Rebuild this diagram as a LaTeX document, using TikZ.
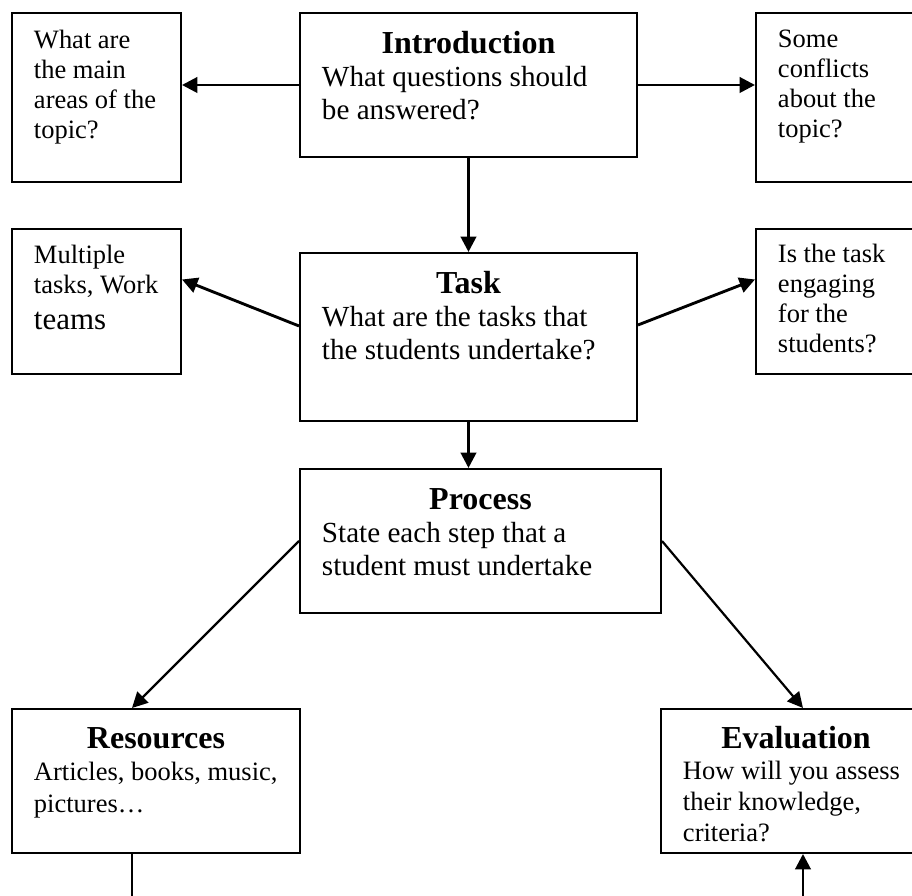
\documentclass[tikz,border=0pt]{standalone}
\usepackage{fontspec}
\setmainfont{Liberation Serif}
\usetikzlibrary{arrows.meta,positioning,calc}
\newlength\px
\setlength\px{0.453pt}
\newcommand\boxtext[4]{%
  \begin{minipage}[t][#2\px][t]{#1\px}%
    \raggedright\leftskip=22\px\parindent=0pt
    \fontsize{12}{30\px}\selectfont
    \rule{0pt}{#3\px}#4%
  \end{minipage}}
\newcommand\boxtitle[1]{%
  {\centering\fontsize{14.5}{16}\bfseries\selectfont #1\par}%
  \fontsize{13.2}{33\px}\selectfont}
\tikzset{card/.style={draw,line width=0.9pt,anchor=north west,inner sep=0pt}}
\tikzset{link/.style={line width=1.3pt}}
\tikzset{>={Triangle[length=7pt,width=7pt]}}

\begin{document}
\begin{tikzpicture}[x=1\px,y=-1\px]
        \useasboundingbox (0,0) rectangle (912,896);
        \clip (0,0) rectangle (912,896);

        \node[card] (areas) at (11,12) {\boxtext{169}{169}{36}{What are\\the main\\areas of the\\topic?}};
        \node[card] (intro) at (299,12) {\boxtext{337}{144}{41}{\boxtitle{Introduction}What questions should\\be answered?}};
        \node[card] (conflicts) at (755,12) {\boxtext{169}{169}{35}{Some\\conflicts\\about the\\topic?}};

        \node[card] (teams) at (11,228) {\boxtext{169}{145}{35}{Multiple\\tasks, Work\\[6\px]{\fontsize{14}{16}\selectfont teams}}};
        \node[card] (task) at (299,252) {\boxtext{337}{168}{41}{\boxtitle{Task}What are the tasks that\\the students undertake?}};
        \node[card] (engaging) at (755,228) {\boxtext{169}{145}{34}{Is the task\\engaging\\for the\\students?}};

        \node[card] (process) at (299,468) {\boxtext{361}{144}{41}{\boxtitle{Process}State each step that a\\student must undertake}};

        \node[card] (resources) at (11,708) {\boxtext{288}{144}{40}{\boxtitle{Resources}\fontsize{12}{32\px}\selectfont Articles, books, music,\\pictures…}};
        \node[card] (evaluation) at (660,708) {\boxtext{270}{144}{40}{\boxtitle{Evaluation}\fontsize{12}{31\px}\selectfont How will you assess\\their knowledge,\\criteria?}};

        \coordinate (resfoot) at (132,896);
        \coordinate (evalfoot) at (803,896);

        \draw[link,->] (intro.west) -- (intro.west -| areas.east);
        \draw[link,->] (intro.east) -- (intro.east -| conflicts.west);
        \draw[link,->] (intro.south) -- (task.north);
        \draw[link,->] ([yshift=11\px]task.west) -- ([yshift=22\px]teams.east);
        \draw[link,->] ([yshift=12\px]task.east) -- ([yshift=22\px]engaging.west);
        \draw[link,->] (task.south) -- (task.south |- process.north);
        \draw[link,->,line width=1pt] (process.west) -- ([xshift=121\px]resources.north west);
        \draw[link,->,line width=1pt] (process.east) -- ([xshift=143\px]evaluation.north west);
        \draw[link,line width=1pt] ([xshift=121\px]resources.south west) -- (resfoot);
        \draw[link,->] (evalfoot) -- ([xshift=143\px]evaluation.south west);
    \end{tikzpicture}
\end{document}
